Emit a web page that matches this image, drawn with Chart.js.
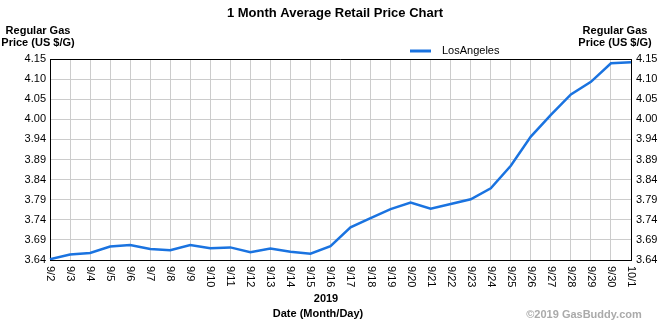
<!DOCTYPE html>
<html>
<head>
<meta charset="utf-8">
<script src="https://cdn.jsdelivr.net/npm/chart.js@4"></script>
<style>
  html, body { margin: 0; padding: 0; background: #fff; }
  #wrap { width: 670px; height: 325px; }
</style>
</head>
<body>
<div id="wrap"><canvas id="priceChart" width="670" height="325"></canvas></div>
<script>
const dates = ["9/2","9/3","9/4","9/5","9/6","9/7","9/8","9/9","9/10","9/11","9/12","9/13","9/14","9/15","9/16",
    "9/17","9/18","9/19","9/20","9/21","9/22","9/23","9/24","9/25","9/26","9/27","9/28","9/29","9/30","10/1"];
const laPrices = [3.642, 3.654, 3.658, 3.674, 3.678, 3.668, 3.665, 3.678, 3.670, 3.672, 3.660, 3.669, 3.661, 3.656, 3.675,
    3.723, 3.746, 3.769, 3.786, 3.770, 3.782, 3.794, 3.822, 3.879, 3.953, 4.008, 4.060, 4.092, 4.139, 4.142];
const yTickValues = [3.64, 3.691, 3.742, 3.793, 3.844, 3.895, 3.946, 3.997, 4.048, 4.099, 4.15];
const yTickLabels = ["3.64","3.69","3.74","3.79","3.84","3.89","3.94","4.00","4.05","4.10","4.15"];

const lineColor = "#1a73e0";
const font = "'Liberation Sans', Arial, sans-serif";

function setTicks(scale) {
    scale.ticks = yTickValues.map(v => ({ value: v }));
}
function tickLabel(value) {
    const i = yTickValues.findIndex(v => Math.abs(v - value) < 1e-6);
    return i >= 0 ? yTickLabels[i] : "";
}

const extras = {
    id: "extras",
    afterDraw(chart) {
        const ctx = chart.ctx;
        const area = chart.chartArea;
        ctx.save();

        // top border of the plot
        ctx.strokeStyle = "#000";
        ctx.lineWidth = 1;
        ctx.beginPath();
        ctx.moveTo(area.left, area.top + 0.5);
        ctx.lineTo(area.right, area.top + 0.5);
        ctx.stroke();

        ctx.fillStyle = "#000";
        ctx.textBaseline = "middle";

        // title
        ctx.font = "bold 13px " + font;
        ctx.textAlign = "center";
        ctx.fillText("1 Month Average Retail Price Chart", 335, 13);

        // axis titles
        ctx.font = "bold 11px " + font;
        ctx.fillText("Regular Gas", 38, 31);
        ctx.fillText("Price (US $/G)", 38, 43);
        ctx.fillText("Regular Gas", 615, 31);
        ctx.fillText("Price (US $/G)", 615, 43);

        // legend
        const ds = chart.data.datasets[0];
        ctx.strokeStyle = ds.borderColor;
        ctx.lineWidth = 3;
        ctx.beginPath();
        ctx.moveTo(410, 51);
        ctx.lineTo(431, 51);
        ctx.stroke();
        ctx.font = "11px " + font;
        ctx.textAlign = "left";
        ctx.fillText(ds.label, 442, 51);

        // x tick labels, turned clockwise
        const xs = chart.scales.x;
        ctx.font = "11px " + font;
        dates.forEach((d, i) => {
            const px = xs.getPixelForValue(i);
            ctx.save();
            ctx.translate(px, 266);
            ctx.rotate(Math.PI / 2);
            ctx.textAlign = "left";
            ctx.textBaseline = "middle";
            ctx.fillText(d, 0, 0);
            ctx.restore();
        });

        // x axis titles
        ctx.font = "bold 11px " + font;
        ctx.textAlign = "center";
        ctx.fillText("2019", 326, 299);
        ctx.fillText("Date (Month/Day)", 318, 314);

        // credit
        ctx.fillStyle = "#aaa";
        ctx.fillText("\u00a92019 GasBuddy.com", 584, 315);
        ctx.restore();
    }
};

new Chart(document.getElementById("priceChart"), {
    type: "line",
    data: {
        labels: dates,
        datasets: [{
            label: "LosAngeles",
            data: laPrices,
            borderColor: lineColor,
            backgroundColor: lineColor,
            borderWidth: 2.5,
            pointRadius: 0,
            tension: 0,
            yAxisID: "y"
        }]
    },
    options: {
        responsive: false,
        animation: false,
        devicePixelRatio: 1,
        layout: { padding: { top: 59, left: 0, right: 0, bottom: 0 } },
        plugins: {
            legend: { display: false },
            title: { display: false },
            tooltip: { enabled: false }
        },
        scales: {
            x: {
                type: "category",
                offset: false,
                grid: { color: "#cccccc", drawTicks: false },
                border: { color: "#000", width: 1 },
                ticks: { display: false },
                afterFit(scale) { scale.height = 65; }
            },
            y: {
                position: "left",
                min: 3.64,
                max: 4.15,
                afterBuildTicks: setTicks,
                grid: { color: "#cccccc", drawTicks: false },
                border: { color: "#000", width: 1 },
                ticks: {
                    padding: 4,
                    color: "#000",
                    font: { family: font, size: 11 },
                    callback: tickLabel
                },
                afterFit(scale) { scale.width = 50; }
            },
            y2: {
                position: "right",
                min: 3.64,
                max: 4.15,
                afterBuildTicks: setTicks,
                grid: { display: false, drawTicks: false },
                border: { color: "#000", width: 1 },
                ticks: {
                    padding: 5,
                    color: "#000",
                    font: { family: font, size: 11 },
                    callback: tickLabel
                },
                afterFit(scale) { scale.width = 39; }
            }
        }
    },
    plugins: [extras]
});
</script>
</body>
</html>
